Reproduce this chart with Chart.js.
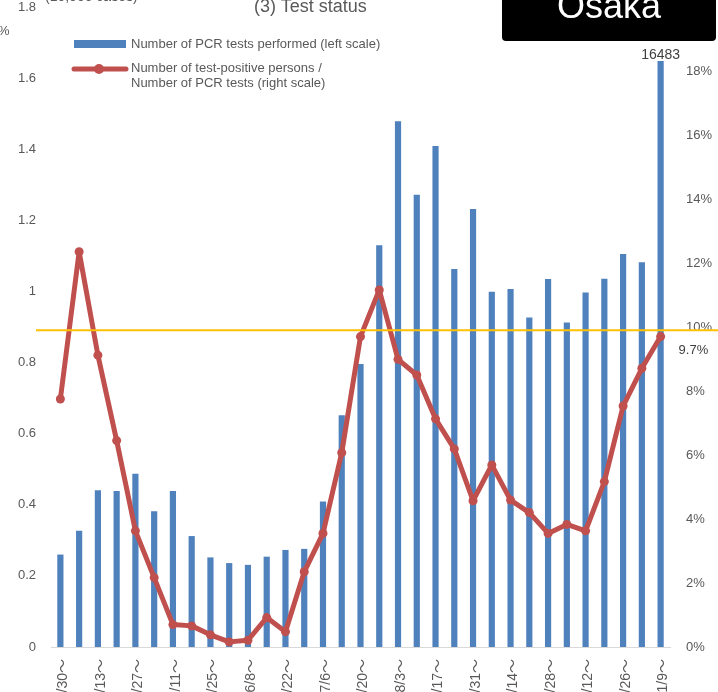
<!DOCTYPE html>
<html><head><meta charset="utf-8">
<script src="https://cdn.jsdelivr.net/npm/chart.js@4/dist/chart.umd.min.js"></script>
<style>
html,body{margin:0;padding:0;background:#fff;overflow:hidden;}
#wrap{position:relative;width:718px;height:692px;overflow:hidden;font-family:"Liberation Sans",Arial,sans-serif;}
#c{position:absolute;left:0;top:-20px;}
.t{position:absolute;white-space:nowrap;}
</style></head><body>
<div id="wrap">
<canvas id="c" width="718" height="760"></canvas>
<div class="t" style="left:254px;top:-3px;font-size:18px;line-height:18px;color:#595959;">(3) Test status</div>
<div class="t" style="left:45px;top:-11px;font-size:14px;line-height:14px;color:#595959;">(10,000 cases)</div>
<div class="t" style="left:-2px;top:24px;font-size:13px;line-height:13px;color:#595959;">%</div>
<div class="t" style="left:502px;top:-10px;width:214px;height:51px;background:#000;border-radius:4px;"></div>
<div class="t" style="left:502px;top:-12px;width:214px;text-align:center;font-size:36px;line-height:36px;color:#fff;">Osaka</div>
</div>
<script>
// ---- data ----
const weeks = ["3/30","4/6","4/13","4/20","4/27","5/4","5/11","5/18","5/25","6/1","6/8","6/15","6/22","6/29","7/6","7/13","7/20","7/27","8/3","8/10","8/17","8/24","8/31","9/7","9/14","9/21","9/28","10/5","10/12","10/19","10/26","11/2","11/9"];
// PCR tests performed, in units of 10,000 cases (left scale)
const pcrTests = [0.26,0.327,0.441,0.439,0.487,0.382,0.439,0.312,0.252,0.236,0.231,0.254,0.273,0.276,0.409,0.652,0.796,1.130,1.479,1.272,1.409,1.063,1.232,0.999,1.007,0.927,1.035,0.913,0.997,1.036,1.105,1.082,1.6483];
// positivity rate, % (right scale)
const positivity = [7.75,12.35,9.12,6.45,3.63,2.17,0.70,0.66,0.38,0.16,0.21,0.92,0.48,2.35,3.55,6.07,9.70,11.16,8.99,8.5,7.13,6.19,4.57,5.69,4.59,4.2,3.55,3.83,3.63,5.17,7.53,8.71,9.7];
const leftTicksMax = 1.8, leftStep = 0.2;
const rightTicksMax = 20, rightStep = 2;
const thresholdPct = 9.9;
const legendLabels = ["Number of PCR tests performed (left scale)", "Number of test-positive persons /", "Number of PCR tests (right scale)"];

const BLUE = '#4F81BD', RED = '#C0504D', TXT = '#595959';
const FONT = '"Liberation Sans", Arial, sans-serif';
const XFONT = '"Liberation Sans", "Noto Sans CJK JP", sans-serif';

const extras = {
  id: 'extras',
  afterDraw(chart) {
    const {ctx, scales} = chart;
    const yR = scales.yR;
    ctx.save();
    // threshold line
    const yy = yR.getPixelForValue(thresholdPct);
    ctx.strokeStyle = '#FFC000'; ctx.lineWidth = 2;
    ctx.beginPath(); ctx.moveTo(36, yy); ctx.lineTo(718, yy); ctx.stroke();
    // last bar value label
    const bm = chart.getDatasetMeta(1);
    const lb = bm.data[bm.data.length - 1];
    ctx.fillStyle = '#404040';
    ctx.font = '14px ' + FONT;
    ctx.textAlign = 'center'; ctx.textBaseline = 'bottom';
    ctx.fillText(String(Math.round(pcrTests[pcrTests.length - 1] * 10000)), lb.x, lb.y + 1);
    // last positivity label
    const lm = chart.getDatasetMeta(0);
    const lp = lm.data[lm.data.length - 1];
    ctx.font = '13px ' + FONT;
    ctx.textAlign = 'left'; ctx.textBaseline = 'middle';
    ctx.fillStyle = '#404040';
    ctx.fillText(positivity[positivity.length - 1].toFixed(1) + '%', lp.x + 18, lp.y + 14);
    // legend
    ctx.fillStyle = BLUE;
    ctx.fillRect(74, 60, 52, 8);
    ctx.strokeStyle = RED; ctx.lineWidth = 5; ctx.lineCap = 'round';
    ctx.beginPath(); ctx.moveTo(74, 89); ctx.lineTo(126, 89); ctx.stroke();
    ctx.fillStyle = RED;
    ctx.beginPath(); ctx.arc(99, 89, 5, 0, Math.PI * 2); ctx.fill();
    ctx.fillStyle = TXT;
    ctx.font = '13px ' + FONT;
    ctx.textAlign = 'left'; ctx.textBaseline = 'middle';
    ctx.fillText(legendLabels[0], 131, 64);
    ctx.fillText(legendLabels[1], 131, 88);
    ctx.fillText(legendLabels[2], 131, 103);
    ctx.restore();
  }
};

new Chart(document.getElementById('c'), {
  data: {
    labels: weeks,
    datasets: [
      {
        type: 'line', label: 'positivity', data: positivity, yAxisID: 'yR', order: 0,
        borderColor: RED, backgroundColor: RED, borderWidth: 5, borderJoinStyle: 'round', borderCapStyle: 'round',
        pointRadius: 4.5, pointBackgroundColor: RED, pointBorderWidth: 0, tension: 0
      },
      {
        type: 'bar', label: 'pcr', data: pcrTests, yAxisID: 'yL', order: 1,
        backgroundColor: BLUE, barPercentage: 0.33, categoryPercentage: 1
      }
    ]
  },
  options: {
    responsive: false, animation: false, devicePixelRatio: 1,
    layout: {padding: {top: 27, bottom: 0, left: 0, right: 0}},
    plugins: {legend: {display: false}, tooltip: {enabled: false}},
    scales: {
      x: {
        grid: {display: false, drawTicks: false},
        border: {display: true, color: '#D9D9D9', width: 1},
        ticks: {
          autoSkip: false, maxRotation: 90, minRotation: 90, padding: 12, labelOffset: 3,
          color: TXT, font: {family: XFONT, size: 14},
          callback: (v, i) => i % 2 === 0 ? weeks[i] + '～' : ''
        },
        afterFit: s => { s.height = 93; }
      },
      yL: {
        position: 'left', min: 0, max: leftTicksMax,
        grid: {display: false, drawTicks: false}, border: {display: false},
        ticks: {stepSize: leftStep, padding: 15, color: TXT, font: {family: FONT, size: 13},
          callback: v => String(+(+v).toFixed(1))},
        afterFit: s => { s.width = 51; }
      },
      yR: {
        position: 'right', min: 0, max: rightTicksMax,
        grid: {display: false, drawTicks: false}, border: {display: false},
        ticks: {stepSize: rightStep, padding: 16, color: TXT, font: {family: FONT, size: 13},
          callback: v => v >= rightTicksMax ? '' : Math.round(v) + '%'},
        afterFit: s => { s.width = 48; }
      }
    }
  },
  plugins: [extras]
});
</script>
</body></html>
